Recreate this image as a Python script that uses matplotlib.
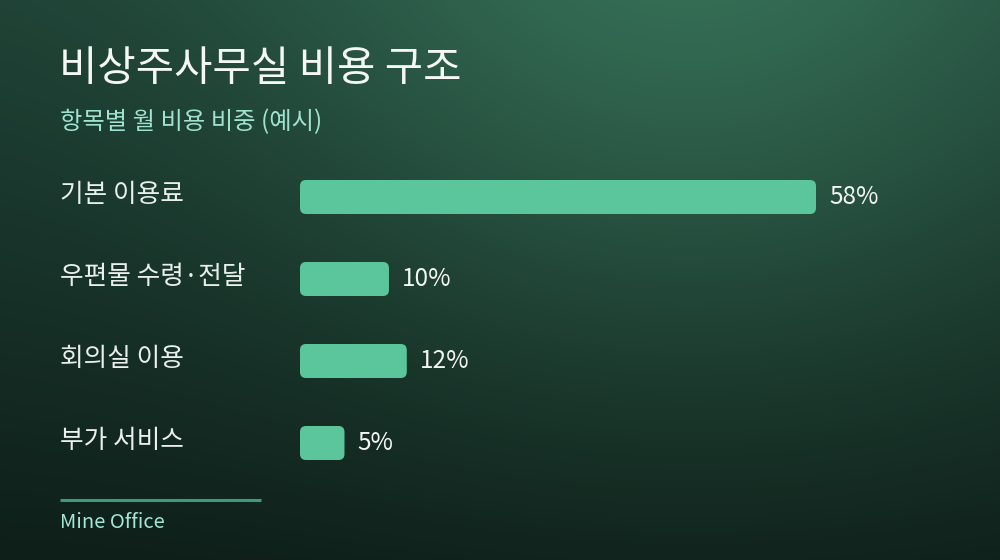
import numpy as np
import matplotlib.pyplot as plt
from matplotlib.patches import FancyBboxPatch
from matplotlib.transforms import blended_transform_factory

plt.rcParams['font.family'] = ['Noto Sans CJK KR', 'DejaVu Sans']

# Data
categories = ['기본 이용료', '우편물 수령·전달', '회의실 이용', '부가 서비스']
shares = [58, 10, 12, 5]
value_labels = ['58%', '10%', '12%', '5%']

TITLE = '비상주사무실 비용 구조'
SUBTITLE = '항목별 월 비용 비중 (예시)'
SOURCE = 'Mine Office'

BAR_COLOR = '#5bc69b'
W, H = 1000, 560
PX_PER_PCT = 516 / 58


fig = plt.figure(figsize=(W / 100, H / 100), dpi=100)

# Background gradient
bg = fig.add_axes([0, 0, 1, 1])
yy, xx = np.mgrid[0:H, 0:W]
top = np.array([30, 64, 52]) / 255
bottom = np.array([14, 30, 25]) / 255
t = (yy / H)[..., None]
base = top * (1 - t) + bottom * t
d2 = ((xx - 690) ** 2 + (yy + 40) ** 2) / 430 ** 2
glow = np.exp(-d2)[..., None] * (np.array([22, 44, 32]) / 255)
img = np.clip(base + glow, 0, 1)
bg.imshow(img, extent=[0, W, H, 0], aspect='auto', interpolation='bilinear')
bg.set_xlim(0, W)
bg.set_ylim(H, 0)
bg.axis('off')

# Header texts
bg.text(59, 70, TITLE, color='#f4f7f5', fontsize=30, fontweight='medium',
        va='center', ha='left')
bg.text(60, 122, SUBTITLE, color='#9fe3cf', fontsize=17.5, va='center', ha='left')

# Footer
bg.plot([60, 261], [500, 500], color='#3f9a7b', lw=2.2, solid_capstyle='butt')
bg.text(60, 522, SOURCE, color='#a3e6d3', fontsize=14.5, va='center', ha='left')

# Bar axes
ax_left, ax_top, ax_w, ax_h = 300, 156, 640, 328
ax = fig.add_axes([ax_left / W, 1 - (ax_top + ax_h) / H, ax_w / W, ax_h / H])
ax.set_xlim(0, ax_w / PX_PER_PCT)
ax.set_ylim(len(categories) - 0.5, -0.5)
ax.axis('off')
ax.patch.set_alpha(0)

bar_h = 34 / 82
aspect = (1 / 82) / (1 / PX_PER_PCT)
label_tf = blended_transform_factory(fig.transFigure, ax.transData)

for i, (cat, val, lab) in enumerate(zip(categories, shares, value_labels)):
    bar = FancyBboxPatch((0, i - bar_h / 2), val, bar_h,
                         boxstyle='round,pad=0,rounding_size=%f' % (6 / PX_PER_PCT),
                         mutation_aspect=aspect,
                         facecolor=BAR_COLOR, edgecolor='none')
    ax.add_patch(bar)
    ax.text(val + 13 / PX_PER_PCT, i, lab, color='#f2f5f3', fontsize=17.5,
            va='center', ha='left')
    ax.text(0.06, i - 0.02, cat, transform=label_tf, color='#e9efec',
            fontsize=18.5, va='center', ha='left')

fig.savefig('out.png', dpi=100)
